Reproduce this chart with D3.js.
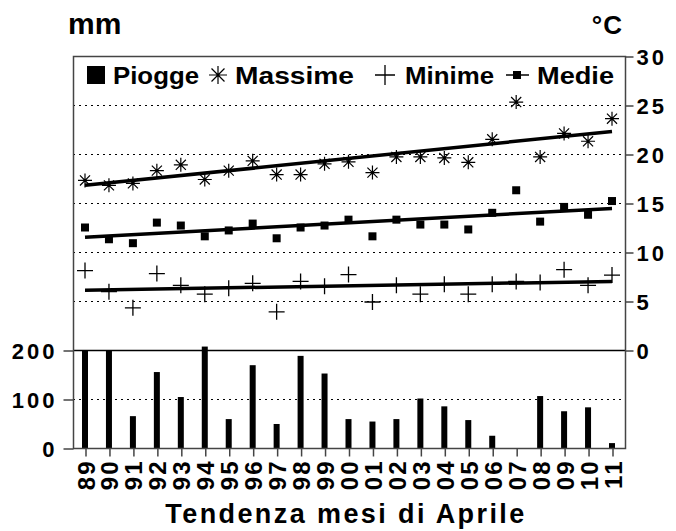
<!DOCTYPE html>
<html><head><meta charset="utf-8">
<script src="https://cdn.jsdelivr.net/npm/d3@7"></script>
<style>
body{margin:0;background:#fff;}
svg{display:block;}
text{font-family:"Liberation Sans",Arial,sans-serif;font-weight:bold;fill:#000;}
</style></head>
<body>
<script>
const years = ["89","90","91","92","93","94","95","96","97","98","99","00","01","02","03","04","05","06","07","08","09","10","11"];
const piogge = [200,200,65,155,104,207,59,169,49,188,152,59,54,59,101,85,57,25,0,106,75,83,10];
const massime = [17.3,16.8,17.0,18.3,18.9,17.4,18.3,19.3,17.9,17.9,19.0,19.2,18.1,19.7,19.7,19.6,19.15,21.5,25.3,19.7,22.1,21.3,23.6];
const medie = [12.5,11.3,10.9,13.0,12.7,11.6,12.2,12.9,11.4,12.5,12.7,13.3,11.6,13.3,12.8,12.8,12.3,14.0,16.3,13.1,14.6,13.8,15.2];
const minime = [8.1,5.95,4.3,7.8,6.6,5.7,6.3,6.8,3.9,7.0,6.5,7.7,4.9,6.6,5.7,6.7,5.7,6.7,7.0,6.9,8.2,6.6,7.65];
const trendMassime = [16.8, 22.3];
const trendMedie = [11.5, 14.45];
const trendMinime = [6.1, 7.0];
const tempTicks = [0,5,10,15,20,25,30];
const rainTicks = [0,100,200];
const legendItems = ["Piogge","Massime","Minime","Medie"];

const W = 676, H = 531;
const svg = d3.select("body").append("svg").attr("width", W).attr("height", H);

const xL = 73, xR = 625, yT = 56, yB = 448;
const x = d3.scalePoint().domain(years).range([85, 612]);
const yTemp = d3.scaleLinear().domain([0, 30]).range([350, yT]);
const yRain = d3.scaleLinear().domain([0, 200]).range([yB, 350]);
const frameColor = "#444";

// dotted gridlines
const g = svg.append("g");
[5,10,15,20,25].forEach(v => {
  g.append("line").attr("x1", xL).attr("x2", xR).attr("y1", yTemp(v)+0.5).attr("y2", yTemp(v)+0.5)
   .attr("stroke", "#000").attr("stroke-dasharray", "2,4");
});
g.append("line").attr("x1", xL).attr("x2", xR).attr("y1", yRain(100)+0.5).attr("y2", yRain(100)+0.5)
   .attr("stroke", "#000").attr("stroke-dasharray", "2,4");

// solid divider line (0°C / 200 mm)
svg.append("line").attr("x1", xL).attr("x2", xR).attr("y1", yTemp(0)+0.5).attr("y2", yTemp(0)+0.5)
  .attr("stroke", "#000").attr("stroke-width", 1.5);

// bars
svg.append("g").selectAll("rect").data(piogge).join("rect")
  .attr("x", (d,i) => x(years[i]) - 3)
  .attr("width", 6)
  .attr("y", d => yRain(d))
  .attr("height", d => yB - yRain(d))
  .attr("fill", "#000");

// frame
svg.append("path").attr("d", `M${xL+0.5},${yB+0.5}V${yT+0.5}H${xR+0.5}V${yB+0.5}Z`)
  .attr("fill", "none").attr("stroke", frameColor).attr("stroke-width", 1.5);

// left axis (rain)
const leftAxis = d3.axisLeft(yRain).tickValues(rainTicks).tickSize(10).tickPadding(6).tickFormat(d3.format("d"));
const la = svg.append("g").attr("transform", `translate(${xL+0.5},0.5)`).call(leftAxis);
la.select(".domain").remove();
la.selectAll("line").attr("stroke", frameColor).attr("stroke-width", 1.5);
la.selectAll("text").style("font-size", "22px").style("letter-spacing", "3px").attr("dy", "0.36em");

// right axis (temp)
const rightAxis = d3.axisRight(yTemp).tickValues(tempTicks).tickSize(8).tickPadding(3).tickFormat(d3.format("d"));
const ra = svg.append("g").attr("transform", `translate(${xR+0.5},0.5)`).call(rightAxis);
ra.select(".domain").remove();
ra.selectAll("line").attr("stroke", frameColor).attr("stroke-width", 1.5);
ra.selectAll("text").style("font-size", "22px").style("letter-spacing", "3px").attr("dy", "0.36em");

// bottom axis
const bottomAxis = d3.axisBottom(x).tickSize(8).tickPadding(0);
const ba = svg.append("g").attr("transform", `translate(0.5,${yB+0.5})`).call(bottomAxis);
ba.select(".domain").remove();
ba.selectAll("line").attr("stroke", frameColor).attr("stroke-width", 1.5);
ba.selectAll("text")
  .style("font-size", "24px")
  .style("letter-spacing", "2px")
  .attr("text-anchor", "end")
  .attr("dy", null)
  .attr("transform", "translate(8.5,11) rotate(-90)")
  .attr("x", 0).attr("y", 0);

// trend lines
const trends = [trendMassime, trendMedie, trendMinime];
trends.forEach(t => {
  svg.append("line")
    .attr("x1", x(years[0])).attr("y1", yTemp(t[0]))
    .attr("x2", x(years[years.length-1])).attr("y2", yTemp(t[1]))
    .attr("stroke", "#000").attr("stroke-width", 3.5);
});

// markers
function asterisk(sel, cx, cy, r) {
  const p = d3.path();
  p.moveTo(cx - r, cy); p.lineTo(cx + r, cy);
  p.moveTo(cx, cy - r); p.lineTo(cx, cy + r);
  const d = r * 0.72;
  p.moveTo(cx - d, cy - d); p.lineTo(cx + d, cy + d);
  p.moveTo(cx - d, cy + d); p.lineTo(cx + d, cy - d);
  sel.append("path").attr("d", p.toString()).attr("stroke", "#000").attr("stroke-width", 1.2).attr("fill", "none");
}
function plus(sel, cx, cy, r) {
  const p = d3.path();
  p.moveTo(cx - r, cy); p.lineTo(cx + r, cy);
  p.moveTo(cx, cy - r); p.lineTo(cx, cy + r);
  sel.append("path").attr("d", p.toString()).attr("stroke", "#000").attr("stroke-width", 1.3).attr("fill", "none");
}
const mk = svg.append("g");
massime.forEach((v,i) => asterisk(mk, x(years[i]), yTemp(v), 7));
minime.forEach((v,i) => plus(mk, x(years[i]), yTemp(v), 8));
mk.selectAll("rect.med").data(medie).join("rect").attr("class","med")
  .attr("x", (d,i) => x(years[i]) - 4).attr("y", d => yTemp(d) - 4)
  .attr("width", 8).attr("height", 8).attr("fill", "#000");

// legend
const lg = svg.append("g");
const ly = 84;
function legText(xp, w, s) {
  lg.append("text").attr("x", xp).attr("y", ly).style("font-size", "23px")
    .attr("textLength", w).attr("lengthAdjust", "spacingAndGlyphs").text(s);
}
lg.append("rect").attr("x", 87).attr("y", 66).attr("width", 18).attr("height", 18).attr("fill", "#000");
legText(113, 86, legendItems[0]);
asterisk(lg, 218, 75, 9);
legText(235, 119, legendItems[1]);
plus(lg, 385, 75, 10);
legText(405, 89, legendItems[2]);
lg.append("line").attr("x1", 506).attr("x2", 529).attr("y1", 75).attr("y2", 75).attr("stroke", "#000").attr("stroke-width", 1.5);
lg.append("rect").attr("x", 513).attr("y", 71).attr("width", 8).attr("height", 8).attr("fill", "#000");
legText(537, 77, legendItems[3]);

// unit titles
svg.append("text").attr("x", 68).attr("y", 34).style("font-size", "30px").text("mm");
svg.append("text").attr("x", 623).attr("y", 34).attr("text-anchor", "end").style("font-size", "26px").style("letter-spacing", "1px").text("°C");

// x title
svg.append("text").attr("x", 346).attr("y", 523).attr("text-anchor", "middle")
  .style("font-size", "27px").style("letter-spacing", "2.4px").text("Tendenza mesi di Aprile");
</script>
</body></html>
